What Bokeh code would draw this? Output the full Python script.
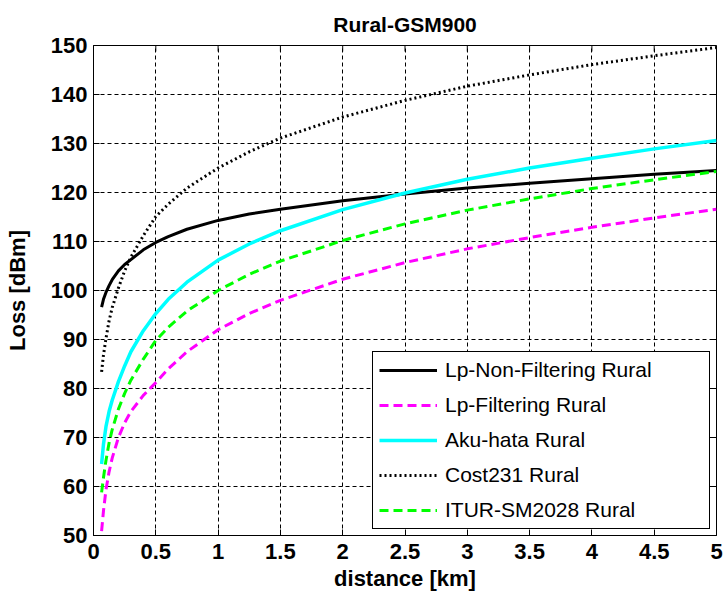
import math
from bokeh.plotting import figure
from bokeh.models import Range1d, FixedTicker, Legend, LegendItem
from bokeh.embed import file_html
from bokeh.resources import INLINE

# ---- data ----
distance_km = [0.065, 0.08, 0.1, 0.125, 0.15, 0.2, 0.25, 0.3, 0.4, 0.5, 0.6, 0.75,
               1.0, 1.25, 1.5, 2.0, 2.5, 3.0, 3.5, 4.0, 4.5, 5.0]
lp_non_filtering = [96.6, 98.2, 99.6, 101.0, 102.2, 104.0, 105.3, 106.3, 108.3, 109.8, 111.0,
                    112.5, 114.3, 115.6, 116.6, 118.3, 119.7, 120.9, 121.9, 122.8, 123.7, 124.5]
lp_filtering = [50.9, 55.0, 59.3, 63.0, 65.8, 70.0, 73.0, 75.3, 78.6, 81.2, 84.0,
                87.5, 92.0, 95.3, 98.0, 102.3, 105.7, 108.5, 110.8, 112.9, 114.8, 116.6]
aku_hata = [64.6, 68.6, 72.2, 75.3, 77.6, 81.4, 84.6, 87.5, 91.8, 95.3, 98.2,
            101.7, 106.2, 109.5, 112.2, 116.5, 119.9, 122.7, 125.0, 127.0, 128.9, 130.6]
cost231 = [83.4, 86.8, 90.2, 93.8, 96.5, 100.5, 104.0, 106.8, 111.2, 115.1, 117.6,
           120.9, 125.0, 128.3, 131.1, 135.4, 138.8, 141.7, 144.0, 146.1, 147.9, 149.6]
itur_sm2028 = [58.8, 61.8, 65.3, 68.9, 71.6, 75.8, 79.0, 81.7, 86.0, 89.8, 92.5,
               95.8, 100.0, 103.3, 106.0, 110.2, 113.6, 116.4, 118.7, 120.8, 122.6, 124.3]

series_names = ["Lp-Non-Filtering Rural", "Lp-Filtering Rural", "Aku-hata Rural",
                "Cost231 Rural", "ITUR-SM2028 Rural"]
x_ticks = [0, 0.5, 1, 1.5, 2, 2.5, 3, 3.5, 4, 4.5, 5]
x_tick_labels = ["0", "0.5", "1", "1.5", "2", "2.5", "3", "3.5", "4", "4.5", "5"]
y_ticks = [50, 60, 70, 80, 90, 100, 110, 120, 130, 140, 150]
y_tick_labels = ["50", "60", "70", "80", "90", "100", "110", "120", "130", "140", "150"]
x_min, x_max = 0, 5
y_min, y_max = 50, 150
title_text = "Rural-GSM900"

FONT = "Liberation Sans"

p = figure(width=724, height=603, output_backend="svg", toolbar_location=None,
           x_range=Range1d(x_min, x_max), y_range=Range1d(y_min, y_max),
           min_border_left=93, min_border_right=8, min_border_top=45,
           min_border_bottom=68, title=title_text)
p.background_fill_color = "white"
p.border_fill_color = "white"
p.outline_line_color = "black"
p.outline_line_alpha = 1.0
p.outline_line_width = 1

p.title.text_font = FONT
p.title.text_font_size = "21px"
p.title.text_font_style = "bold"
p.title.align = "center"
p.title.text_color = "black"
p.title.standoff = 19

for ax, ticks, labels in ((p.xaxis[0], x_ticks, x_tick_labels),
                          (p.yaxis[0], y_ticks, y_tick_labels)):
    ax.ticker = FixedTicker(ticks=ticks)
    ax.major_label_overrides = {t: l for t, l in zip(ticks, labels)}
    ax.major_label_text_font = FONT
    ax.major_label_text_font_size = "22px"
    ax.major_label_text_font_style = "bold"
    ax.major_label_text_color = "black"
    ax.axis_label_text_font = FONT
    ax.axis_label_text_font_size = "22px"
    ax.axis_label_text_font_style = "bold"
    ax.axis_label_text_color = "black"
    ax.axis_line_color = "black"
    ax.major_tick_line_color = "black"
    ax.major_tick_in = 6
    ax.major_tick_out = 0
    ax.minor_tick_line_color = None
    ax.major_label_standoff = 6

p.xaxis[0].axis_label = "distance [km]"
p.yaxis[0].axis_label = "Loss [dBm]"
p.xaxis[0].major_label_standoff = 8
p.xaxis[0].axis_label_standoff = 4
p.yaxis[0].axis_label_standoff = 18

# inward tick marks on the top and right edges of the box
p.ray(x=x_ticks, y=[y_max] * len(x_ticks), length=6, length_units="screen",
      angle=-math.pi / 2, line_color="black", line_width=1)
p.ray(x=[x_max] * len(y_ticks), y=y_ticks, length=6, length_units="screen",
      angle=math.pi, line_color="black", line_width=1)

for g in (p.xgrid[0], p.ygrid[0]):
    g.grid_line_color = "black"
    g.grid_line_alpha = 1.0
    g.grid_line_dash = "4 3"
    g.grid_line_width = 1

r1 = p.line(distance_km, lp_non_filtering, line_color="black", line_width=3)
r2 = p.line(distance_km, lp_filtering, line_color="#ff00ff", line_width=3, line_dash="9 5")
r3 = p.line(distance_km, aku_hata, line_color="#00ffff", line_width=3.5)
r4 = p.line(distance_km, cost231, line_color="black", line_width=3, line_dash="2 3")
r5 = p.line(distance_km, itur_sm2028, line_color="#00ff00", line_width=3, line_dash="9 5")

legend = Legend(items=[LegendItem(label=n, renderers=[r]) for n, r in
                       zip(series_names, [r1, r2, r3, r4, r5])],
                location="bottom_right", margin=6, padding=6, spacing=11,
                glyph_width=58, glyph_height=24, label_height=24, label_width=258,
                label_standoff=8, label_text_font=FONT, label_text_font_size="21px",
                label_text_color="black", border_line_color="black", border_line_alpha=1.0,
                border_line_width=1, background_fill_color="white", background_fill_alpha=1.0)
p.add_layout(legend, "center")

open("out.html", "w").write(file_html(p, INLINE))
